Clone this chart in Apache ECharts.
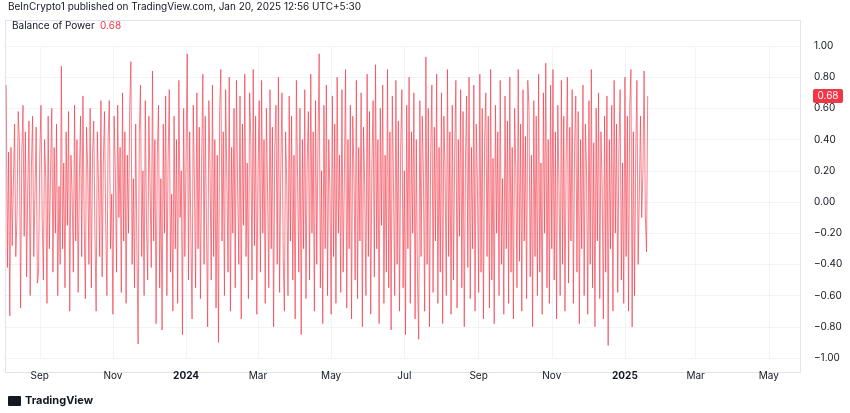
<!DOCTYPE html>
<html><head><meta charset="utf-8">
<script src="https://cdn.jsdelivr.net/npm/echarts@6/dist/echarts.min.js"></script>
<style>html,body{margin:0;padding:0;background:#fff}#c{width:850px;height:413px}</style>
</head><body><div id="c"></div>
<script>
const startDate = '2023-08-04';
const bopValues = [
0.75,-0.42,0.32,-0.73,0.35,-0.28,0.12,0.50,-0.35,-0.10,0.58,0.40,-0.68,0.30,0.62,-0.22,0.45,-0.48,0.10,0.52,
-0.60,0.22,0.55,-0.35,0.05,0.48,-0.52,-0.45,0.30,0.62,-0.10,-0.50,0.40,0.15,-0.65,0.55,-0.30,0.20,0.60,-0.45,
0.35,-0.20,0.50,-0.60,0.10,-0.40,0.87,-0.30,0.25,-0.55,0.45,-0.15,0.58,-0.70,0.30,0.05,-0.45,0.62,-0.25,0.40,
-0.58,0.15,0.55,-0.35,0.68,-0.10,-0.62,0.48,0.20,-0.40,0.60,-0.55,0.30,0.52,-0.20,-0.70,0.45,0.10,-0.35,0.65,
-0.48,0.25,0.58,-0.15,-0.60,0.40,0.65,-0.30,0.05,-0.72,0.55,0.20,-0.45,0.62,-0.10,0.35,-0.58,0.70,-0.25,0.45,
-0.65,0.30,-0.20,0.60,0.90,-0.40,0.15,-0.55,0.50,-0.30,-0.91,0.45,0.75,-0.35,0.20,-0.60,0.65,-0.15,-0.50,0.55,
0.10,-0.42,0.84,-0.25,0.40,-0.78,0.30,0.62,-0.55,0.15,-0.82,0.50,-0.20,0.68,-0.60,0.25,0.72,-0.45,0.05,-0.70,
0.55,-0.30,0.40,-0.65,0.78,-0.10,0.20,-0.85,0.60,-0.35,0.30,0.95,-0.50,0.45,-0.20,-0.75,0.62,0.10,-0.55,0.70,
-0.30,0.48,-0.62,0.25,0.82,-0.40,0.55,-0.15,-0.80,0.65,0.20,-0.50,0.75,-0.35,0.40,-0.68,0.30,-0.90,0.58,0.85,
-0.25,0.45,-0.60,0.72,0.15,-0.45,0.80,-0.70,0.35,-0.20,0.60,-0.55,0.78,0.10,-0.40,0.68,-0.75,0.50,-0.15,0.82,
-0.35,0.25,-0.62,0.70,0.40,-0.50,0.85,-0.28,0.55,-0.72,0.18,0.65,-0.45,0.78,-0.20,0.40,-0.65,0.60,0.05,-0.55,
0.72,-0.30,0.48,-0.80,0.35,0.62,-0.40,0.80,-0.58,0.20,0.70,-0.35,-0.70,0.45,0.10,-0.60,0.68,-0.25,0.55,-0.50,
0.30,-0.75,0.78,0.15,-0.45,0.60,-0.85,0.40,-0.30,0.72,-0.62,0.25,0.58,-0.50,0.82,-0.20,0.45,-0.70,0.65,-0.40,
0.35,0.95,-0.55,0.20,-0.78,0.62,-0.30,0.75,-0.60,0.40,0.05,-0.72,0.68,-0.35,0.50,-0.65,0.80,-0.20,0.30,-0.58,
0.72,-0.45,0.15,0.85,-0.68,0.40,-0.30,0.62,-0.75,0.55,0.20,-0.50,0.78,-0.62,0.35,-0.25,0.70,-0.80,0.48,0.10,
-0.60,0.82,-0.35,0.58,-0.72,0.25,0.65,-0.48,0.88,-0.30,0.40,-0.78,0.60,-0.15,0.75,-0.65,0.30,-0.45,0.85,-0.55,
0.45,-0.82,0.68,0.10,-0.60,0.78,-0.40,0.52,-0.70,0.35,0.72,-0.55,0.20,-0.85,0.62,-0.30,0.80,-0.65,0.45,-0.20,
0.70,-0.75,0.40,-0.50,-0.88,0.65,-0.35,0.55,0.15,-0.70,0.93,-0.40,0.60,-0.80,0.30,0.75,-0.58,0.48,-0.25,0.82,
-0.65,0.35,-0.45,0.70,-0.78,0.55,0.20,-0.60,0.85,-0.35,0.45,-0.72,0.62,-0.50,0.30,0.78,-0.68,0.40,-0.22,0.72,
-0.55,0.58,-0.80,0.25,0.68,-0.42,0.80,-0.62,0.35,-0.30,0.75,-0.70,0.50,0.10,-0.58,0.82,-0.45,0.60,-0.75,0.40,
0.70,-0.35,0.55,-0.68,0.85,-0.50,0.28,-0.78,0.62,-0.20,0.45,-0.60,0.78,-0.40,0.15,-0.72,0.68,-0.30,0.52,-0.65,
0.80,-0.45,0.35,-0.75,0.60,0.20,-0.55,0.85,-0.38,0.50,-0.70,0.72,-0.25,0.42,-0.62,0.78,0.60,-0.48,0.30,-0.80,
0.65,-0.35,0.55,-0.60,0.82,-0.45,0.25,-0.72,0.70,-0.20,0.89,-0.55,0.40,-0.65,0.75,-0.30,0.85,-0.50,0.45,-0.75,
0.62,0.10,-0.60,0.78,-0.40,0.55,-0.70,0.30,0.80,-0.52,0.48,-0.25,0.72,-0.65,0.35,0.68,-0.45,0.58,-0.78,0.40,
-0.30,0.75,-0.60,0.50,0.20,-0.72,0.65,-0.40,0.85,-0.55,0.38,-0.80,0.60,-0.25,0.70,-0.62,0.45,0.10,-0.75,0.55,
-0.45,0.68,-0.92,0.40,-0.30,0.62,-0.70,0.78,-0.20,0.50,-0.58,0.35,0.72,-0.50,0.25,-0.65,0.80,-0.35,0.55,-0.70,
0.60,0.85,-0.80,0.45,-0.60,0.30,0.78,-0.40,0.05,0.55,-0.10,0.20,0.84,-0.08,-0.32,0.68
];
const xTickDates = ['2023-09-01','2023-11-01','2024-01-01','2024-03-01','2024-05-01','2024-07-01','2024-09-01','2024-11-01','2025-01-01','2025-03-01','2025-05-01'];
const seriesName = 'Balance of Power';
const monthNames = ['Jan','Feb','Mar','Apr','May','Jun','Jul','Aug','Sep','Oct','Nov','Dec'];

const t0 = Date.parse(startDate + 'T00:00:00Z');
const data = bopValues.map((v,i)=>[t0 + i*86400000, v]);
const tickTs = xTickDates.map(d=>Date.parse(d+'T00:00:00Z'));
const lastVal = bopValues[bopValues.length-1];

const chart = echarts.init(document.getElementById('c'));
const font = 'Inter, "Noto Sans", sans-serif';
chart.setOption({
  animation:false,
  grid:{left:5,right:50,top:46,bottom:55},
  xAxis:{type:'value',min:Date.parse('2023-08-03T00:00:00Z'),max:Date.parse('2025-05-27T00:00:00Z'),
    axisLine:{show:false},axisTick:{show:false,customValues:tickTs},
    axisLabel:{customValues:tickTs,color:'#131722',fontSize:10,fontFamily:font,margin:13,
      formatter:v=>{const d=new Date(v);return d.getUTCMonth()===0?'{b|'+d.getUTCFullYear()+'}':monthNames[d.getUTCMonth()];},
      rich:{b:{fontWeight:'bold',fontSize:10,fontFamily:font,color:'#131722'}}},
    splitLine:{show:true,lineStyle:{color:'#f0f3fa',width:1}}},
  yAxis:{type:'value',position:'right',min:-1,max:1,interval:0.2,
    axisLine:{show:false},axisTick:{show:false},
    axisLabel:{color:'#131722',fontSize:10,fontFamily:font,margin:14,
      formatter:v=>(v<0?'−':'')+Math.abs(v).toFixed(2)},
    splitLine:{lineStyle:{color:'#f0f3fa',width:1}}},
  series:[{name:seriesName,type:'line',data:data,showSymbol:false,symbol:'none',
    lineStyle:{color:'#f23645',width:0.8,opacity:0.8}}]
});
const py = chart.convertToPixel({yAxisIndex:0}, lastVal);
chart.setOption({graphic:[
  {type:'rect',shape:{x:5.5,y:20.5,width:795,height:352},style:{fill:'none',stroke:'#e0e3eb',lineWidth:1},silent:true},
  {type:'text',x:8,y:2,style:{text:'BeInCrypto1 published on TradingView.com, Jan 20, 2025 12:56 UTC+5:30',fill:'#131722',font:'10px '+font}},
  {type:'text',x:12,y:21,style:{text:seriesName,fill:'#131722',font:'10px '+font}},
  {type:'text',x:100,y:21,style:{text:lastVal.toFixed(2),fill:'#f23645',font:'10px '+font}},
  {type:'rect',shape:{x:813,y:py-7,width:30,height:14,r:2},style:{fill:'#f23645'}},
  {type:'text',x:828,y:py,style:{text:lastVal.toFixed(2),fill:'#fff',font:'10px '+font,align:'center',verticalAlign:'middle'}},
  {type:'rect',shape:{x:8,y:396,width:13,height:10,r:1},style:{fill:'#131722'}},
  {type:'text',x:25,y:395,style:{text:'TradingView',fill:'#131722',font:'bold 11px '+font}}
]});
</script></body></html>
